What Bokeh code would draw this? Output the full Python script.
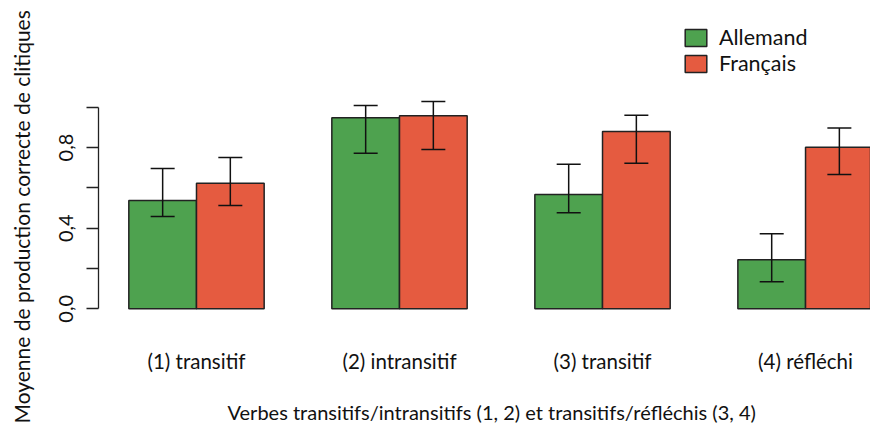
from bokeh.plotting import figure
from bokeh.models import (ColumnDataSource, Whisker, TeeHead, FixedTicker, Legend,
                          LegendItem, Range1d, Title, LinearAxis)
from bokeh.embed import file_html
from bokeh.resources import INLINE

# ---------------- data ----------------
groups = ["(1) transitif", "(2) intransitif", "(3) transitif", "(4) réfléchi"]
series = ["Allemand", "Français"]
allemand = [0.537, 0.948, 0.567, 0.243]
allemand_lo = [0.458, 0.771, 0.477, 0.134]
allemand_hi = [0.696, 1.008, 0.717, 0.372]
francais = [0.623, 0.958, 0.879, 0.801]
francais_lo = [0.512, 0.790, 0.722, 0.666]
francais_hi = [0.750, 1.028, 0.960, 0.897]
y_ticks = [0, 0.2, 0.4, 0.6, 0.8, 1]
y_tick_labels = ["0,0", "", "0,4", "", "0,8", ""]
x_title = "Verbes transitifs/intransitifs (1, 2) et transitifs/réfléchis (3, 4)"
y_title = "Moyenne de production correcte de clitiques"

# ---------------- style ----------------
FONT = "Lato"
GREEN = "#4EA24F"
RED = "#E55B40"
EDGE = "#222222"
INK = "#111111"

# R barplot layout: bar width 1, one-unit gap between groups
n = len(groups)
x_green = [3 * i + 1.5 for i in range(n)]
x_red = [3 * i + 2.5 for i in range(n)]
x_center = [3 * i + 2 for i in range(n)]

p = figure(width=870, height=431, output_backend="svg", toolbar_location=None,
           x_range=Range1d(0.552, 11.96), y_range=Range1d(-0.048, 1.430),
           min_border_left=98, min_border_right=0, min_border_top=20,
           min_border_bottom=113)
p.outline_line_color = None
p.xgrid.visible = False
p.ygrid.visible = False
p.background_fill_color = "white"
p.border_fill_color = "white"

src_g = ColumnDataSource(dict(x=x_green, top=allemand, lo=allemand_lo, hi=allemand_hi))
src_r = ColumnDataSource(dict(x=x_red, top=francais, lo=francais_lo, hi=francais_hi))

rg = p.vbar(x="x", top="top", bottom=0, width=1, source=src_g,
            fill_color=GREEN, line_color=EDGE, line_width=1.5)
rr = p.vbar(x="x", top="top", bottom=0, width=1, source=src_r,
            fill_color=RED, line_color=EDGE, line_width=1.5)

for src in (src_g, src_r):
    w = Whisker(base="x", upper="hi", lower="lo", source=src,
                line_color=INK, line_width=1.5, level="overlay",
                upper_head=TeeHead(size=24, line_color=INK, line_width=1.5),
                lower_head=TeeHead(size=24, line_color=INK, line_width=1.5))
    p.add_layout(w)

# y axis
ya = p.yaxis[0]
ya.ticker = FixedTicker(ticks=y_ticks)
ya.major_label_overrides = {t: l for t, l in zip(y_ticks, y_tick_labels)}
ya.bounds = (0, 1)
ya.minor_tick_line_color = None
ya.major_tick_out = 12
ya.major_tick_in = 0
ya.axis_line_color = EDGE
ya.axis_line_width = 1.3
ya.major_tick_line_color = EDGE
ya.major_tick_line_width = 1.3
ya.major_label_orientation = "vertical"
ya.major_label_text_font = FONT
ya.major_label_text_font_size = "20px"
ya.major_label_text_color = INK
ya.major_label_standoff = 13

# x axis (group names)
xa = p.xaxis[0]
xa.ticker = FixedTicker(ticks=x_center)
xa.major_label_overrides = {t: g for t, g in zip(x_center, groups)}
xa.axis_line_color = None
xa.major_tick_line_color = None
xa.minor_tick_line_color = None
xa.major_tick_out = 0
xa.major_tick_in = 0
xa.major_label_standoff = 30
xa.major_label_text_font = FONT
xa.major_label_text_font_size = "20.5px"
xa.major_label_text_color = INK


def spacer(size, tick):
    """Invisible axis (white tick, no label) that only leaves room before a title."""
    return LinearAxis(ticker=FixedTicker(ticks=[tick]), axis_line_color=None,
                      major_tick_line_color="white", minor_tick_line_color=None,
                      major_tick_out=size, major_tick_in=0,
                      major_label_overrides={tick: ""},
                      major_label_text_font_size="0px", major_label_standoff=0)


p.add_layout(spacer(22, y_ticks[0]), "left")
p.add_layout(spacer(23, x_center[0]), "below")

# axis titles (placed like R, relative to the full plot region)
p.add_layout(Title(text=y_title, align="left", offset=-105, standoff=0,
                   vertical_align="middle", text_font=FONT, text_font_size="21px",
                   text_font_style="normal", text_color=INK), "left")
p.add_layout(Title(text=x_title, align="left", offset=129, standoff=0,
                   vertical_align="middle", text_font=FONT, text_font_size="20px",
                   text_font_style="normal", text_color=INK), "below")

legend = Legend(items=[LegendItem(label=series[0], renderers=[rg]),
                       LegendItem(label=series[1], renderers=[rr])],
                location=(584, 242), orientation="vertical",
                glyph_width=27, glyph_height=21, label_standoff=10, spacing=0,
                padding=0, margin=0, border_line_color=None,
                background_fill_alpha=0,
                label_text_font=FONT, label_text_font_size="21.5px",
                label_text_color=INK)
p.add_layout(legend)

open("out.html", "w").write(file_html(p, INLINE))
